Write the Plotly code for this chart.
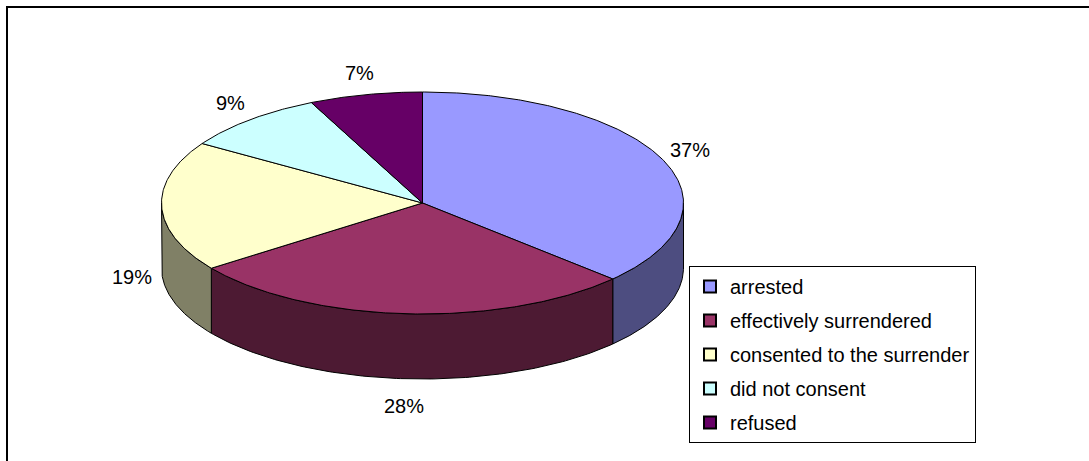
import numpy as np
import plotly.graph_objects as go

# ---- data ----
categories = ["arrested", "effectively surrendered", "consented to the surrender",
              "did not consent", "refused"]
shares = [37, 28, 19, 9, 7]
top_colors = ["#9999FF", "#993366", "#FFFFCC", "#CCFFFF", "#660066"]
side_colors = ["#4D4D80", "#4D1A33", "#808066", "#668080", "#330033"]

# ---- geometry (pixel space of the 1089x461 page) ----
W, H = 1089, 461
CX, CY, RX, RY, DEPTH = 422.5, 203, 261, 111, 65
FONT = "Liberation Sans, Arial, sans-serif"


def pt(theta_deg, dz=0.0):
    t = np.radians(theta_deg)
    return CX + RX * np.sin(t), CY - RY * np.cos(t) + dz


total = float(sum(shares))
bounds = np.concatenate([[0], np.cumsum(shares)]) / total * 360.0

fig = go.Figure()

# side faces (visible front half: 90..270 deg clockwise from top)
for i in range(len(shares)):
    a0, a1 = bounds[i], bounds[i + 1]
    s, e = max(a0, 90.0), min(a1, 270.0)
    if e <= s:
        continue
    th = np.linspace(s, e, 120)
    xt, yt = pt(th)
    xb, yb = pt(th[::-1], DEPTH)
    xs = np.concatenate([xt, xb, xt[:1]])
    ys = np.concatenate([yt, yb, yt[:1]])
    fig.add_trace(go.Scatter(x=xs, y=ys, mode="lines", fill="toself",
                             fillcolor=side_colors[i],
                             line=dict(color="black", width=1),
                             hoverinfo="skip", showlegend=False))

# top faces
for i in range(len(shares)):
    a0, a1 = bounds[i], bounds[i + 1]
    th = np.linspace(a0, a1, max(int((a1 - a0) * 2), 10))
    xa, ya = pt(th)
    xs = np.concatenate([[CX], xa, [CX]])
    ys = np.concatenate([[CY], ya, [CY]])
    fig.add_trace(go.Scatter(x=xs, y=ys, mode="lines", fill="toself",
                             fillcolor=top_colors[i],
                             line=dict(color="black", width=1),
                             hoverinfo="skip", showlegend=False))

# percentage labels
OX, OY = 30, 22
for i in range(len(shares)):
    mid = np.radians((bounds[i] + bounds[i + 1]) / 2)
    lx = CX + (RX + OX) * np.sin(mid)
    ly = CY - (RY + OY) * np.cos(mid)
    if np.cos(mid) < 0:
        ly += DEPTH + 5
    fig.add_annotation(x=lx, y=ly, text=f"{shares[i]}%", showarrow=False,
                       xref="x", yref="y", xanchor="center", yanchor="middle",
                       font=dict(family=FONT, size=20, color="black"))

# legend entries
for i, name in enumerate(categories):
    fig.add_trace(go.Scatter(x=[None], y=[None], mode="markers", name=name,
                             legendgroup=name,
                             marker=dict(symbol="square", size=12,
                                         color=top_colors[i],
                                         line=dict(color="black", width=1))))

# outer frame
fig.add_shape(type="rect", xref="x", yref="y", x0=7, y0=7, x1=W + 10, y1=H + 10,
              line=dict(color="black", width=2), fillcolor="rgba(0,0,0,0)",
              layer="above")

fig.update_layout(
    width=W, height=H,
    margin=dict(l=0, r=0, t=0, b=0),
    paper_bgcolor="white", plot_bgcolor="white",
    xaxis=dict(range=[0, W], visible=False, fixedrange=True),
    yaxis=dict(range=[H, 0], visible=False, fixedrange=True),
    showlegend=True,
    legend=dict(x=689 / W, y=1 - 266 / H, xanchor="left", yanchor="top",
                bgcolor="white", bordercolor="black", borderwidth=1,
                font=dict(family=FONT, size=20, color="black"),
                traceorder="grouped", tracegroupgap=5, itemsizing="constant"),
)

fig.write_html("out.html")
